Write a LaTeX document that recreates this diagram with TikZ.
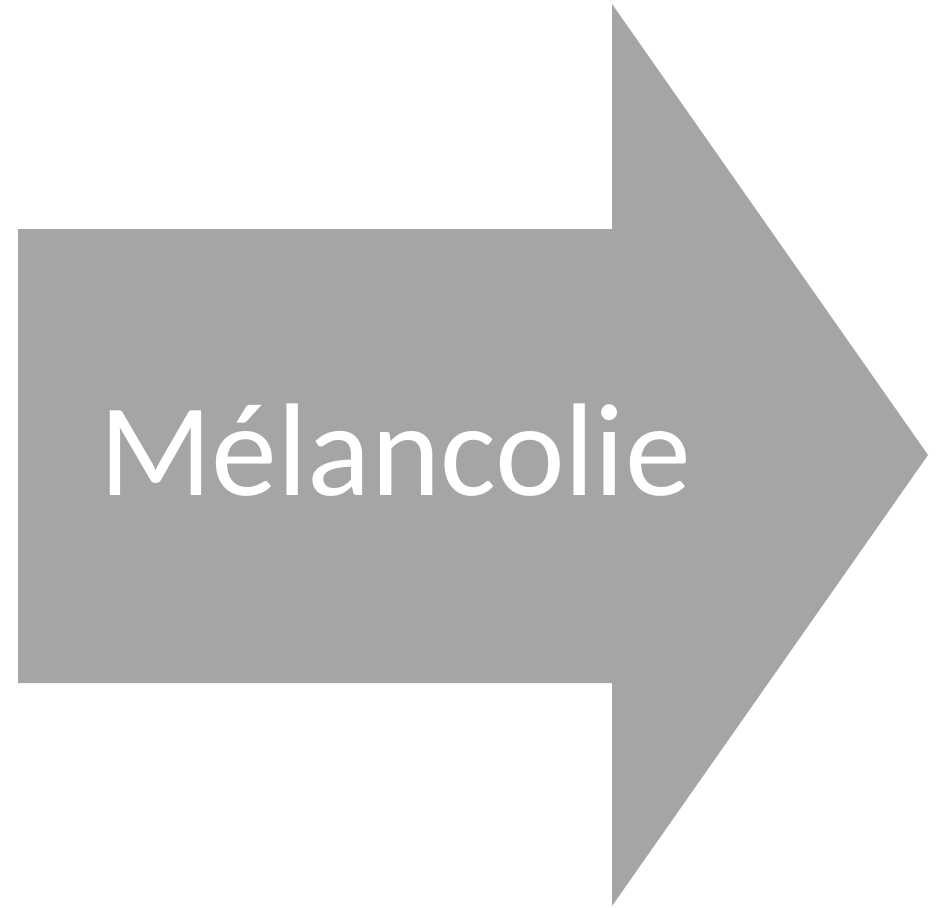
\documentclass[tikz,border=0pt]{standalone}
\usepackage{fontspec}
\setmainfont{Carlito}
\definecolor{arrowgray}{HTML}{A5A5A5}

\begin{document}
\begin{tikzpicture}[
      x=1pt,y=-1pt,
      arrowbody/.style={fill=arrowgray,draw=none},
      label/.style={text=white,font=\fontsize{132}{158}\selectfont,inner sep=0pt,anchor=base}
    ]
    \useasboundingbox (0,0) rectangle (949,907);
    % shaft and head
    \coordinate (tip) at (928,455);
    \fill[arrowbody] (18,229) -- (612,229) -- (612,4) -- (tip)
      -- (612,906) -- (612,683) -- (18,683) -- cycle;
    \node[label] (mel) at (395,495) {Mélancolie};
  \end{tikzpicture}
\end{document}
